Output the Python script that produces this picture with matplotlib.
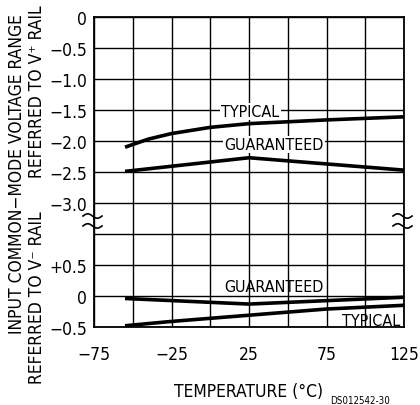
import numpy as np
import matplotlib
matplotlib.use('Agg')
import matplotlib.pyplot as plt

plt.rcParams['font.family'] = ['DejaVu Sans']
plt.rcParams['font.stretch'] = 'condensed'

# upper section: referred to V+ rail
temp_typ_top = [-55, -40, -25, 0, 25, 75, 125]
typ_top = [-2.10, -1.97, -1.88, -1.78, -1.72, -1.66, -1.61]
temp_gua_top = [-55, 25, 125]
gua_top = [-2.49, -2.27, -2.47]

# lower section: referred to V- rail
temp_gua_bot = [-55, 25, 125]
gua_bot = [-0.04, -0.13, -0.02]
temp_typ_bot = [-55, -25, 25, 75, 125]
typ_bot = [-0.48, -0.41, -0.31, -0.21, -0.15]

x_ticks = [-75, -25, 25, 75, 125]
OFFSET = 4.5  # lower section is shifted down by this amount


def lbl(v, plus=False):
    if v == 0:
        return '0'
    s = '%.1f' % abs(v)
    if v < 0:
        return '\u2212' + s
    return ('+' + s) if plus else s


fig = plt.figure(figsize=(4.2, 4.06), dpi=100)
ax = fig.add_axes([94 / 420, 78 / 406, 310 / 420, 310 / 406])

ax.plot(temp_typ_top, typ_top, color='k', lw=2.6, solid_capstyle='butt')
ax.plot(temp_gua_top, gua_top, color='k', lw=2.6, solid_capstyle='butt')
ax.plot(temp_gua_bot, np.array(gua_bot) - OFFSET, color='k', lw=2.6, solid_capstyle='butt')
ax.plot(temp_typ_bot, np.array(typ_bot) - OFFSET, color='k', lw=2.6, solid_capstyle='butt')

ax.set_xlim(-75, 125)
ax.set_ylim(-5.0, 0)
xt = list(range(-75, 126, 25))
ax.set_xticks(xt)
ax.set_xticklabels([(str(t).replace('-', '\u2212') if t in x_ticks else '') for t in xt])
yt = list(np.arange(0, -5.01, -0.5))
ylabels = []
for c in yt:
    if c >= -3.0:
        ylabels.append(lbl(c))
    elif abs(c + 3.5) < 1e-6:
        ylabels.append('')
    else:
        ylabels.append(lbl(c + OFFSET, plus=True))
ax.set_yticks(yt)
ax.set_yticklabels(ylabels)
ax.grid(True, color='k', lw=1.0)
ax.set_axisbelow(True)
ax.tick_params(length=0, labelsize=12.5)
ax.tick_params(axis='x', pad=13)
ax.tick_params(axis='y', pad=5)
for sp in ax.spines.values():
    sp.set_linewidth(1.3)

ax.set_xlabel('TEMPERATURE (\u00b0C)', fontsize=12.5, labelpad=14)

# curve labels
ax.text(26, -1.53, 'TYPICAL', fontsize=11.5, ha='center', va='center',
        bbox=dict(facecolor='white', edgecolor='none', pad=0.8))
ax.text(41, -2.06, 'GUARANTEED', fontsize=11.5, ha='center', va='center',
        bbox=dict(facecolor='white', edgecolor='none', pad=0.8))
ax.text(41, 0.15 - OFFSET, 'GUARANTEED', fontsize=11.5, ha='center', va='center')
ax.text(104, -0.39 - OFFSET, 'TYPICAL', fontsize=11.5, ha='center', va='center')

# axis break marks
t = np.linspace(0, 1, 30)
for xa in (0.0, 1.0):
    for c in (-3.21, -3.37):
        xs = xa + (-11 + 19 * t) / 310
        ys = 1 + c / 5 + 2.2 * np.sin(2 * np.pi * t) / 310
        ax.plot(xs, ys, color='k', lw=1.2, transform=ax.transAxes, clip_on=False)

# y labels
fig.text(17 / 420, 1 - 174 / 406, 'INPUT COMMON\u2212MODE VOLTAGE RANGE', rotation=90,
         ha='center', va='center', fontsize=12.5)
fig.text(37 / 420, 1 - 92 / 406, 'REFERRED TO V\u207a RAIL', rotation=90,
         ha='center', va='center', fontsize=12.5)
fig.text(37 / 420, 1 - 298 / 406, 'REFERRED TO V\u207b RAIL', rotation=90,
         ha='center', va='center', fontsize=12.5)

fig.text(330 / 420, 0, 'DS012542-30', fontsize=7, ha='left', va='bottom')

fig.savefig('out.png', dpi=100)
